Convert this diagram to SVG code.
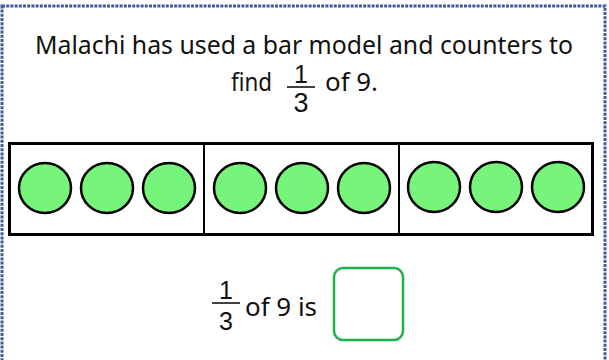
<svg xmlns="http://www.w3.org/2000/svg" width="609" height="360" viewBox="0 0 609 360">
<style>
.frame{fill:none;stroke:#3b5b9b;stroke-width:3;stroke-dasharray:3 1.2}
.t{font-family:"Noto Sans","DejaVu Sans",sans-serif;fill:#111}
.d{font-family:"Liberation Sans",Arial,sans-serif;fill:#111;text-anchor:middle}
.bar{fill:#fff;stroke:#000;stroke-width:3}
.div{stroke:#000;stroke-width:2}
.c{fill:#77f57a;stroke:#000;stroke-width:2.5}
.ans{fill:#fff;stroke:#22b04b;stroke-width:2.5}
.fl{stroke:#111;stroke-width:1.6}
</style>
<rect class="frame" x="2" y="6" width="603" height="360"/>
<g id="question">
<text class="t" x="304" y="54" font-size="26" text-anchor="middle" textLength="538" lengthAdjust="spacingAndGlyphs">Malachi has used a bar model and counters to</text>
<text class="t" x="231" y="91" font-size="26" textLength="41" lengthAdjust="spacingAndGlyphs">find</text>
<text class="d" x="301" y="83" font-size="25">1</text>
<line class="fl" x1="287" y1="87" x2="315" y2="87"/>
<text class="d" x="301" y="112" font-size="27">3</text>
<text class="t" x="325" y="91" font-size="26" textLength="53" lengthAdjust="spacingAndGlyphs">of 9.</text>
</g>
<g id="bar-model">
<rect class="bar" x="9.5" y="143.5" width="583" height="91"/>
<line class="div" x1="204" y1="143" x2="204" y2="235"/>
<line class="div" x1="399" y1="143" x2="399" y2="235"/>
</g>
<g id="counters">
<ellipse class="c" cx="45" cy="188" rx="26" ry="25"/>
<ellipse class="c" cx="107" cy="188" rx="26" ry="25"/>
<ellipse class="c" cx="169" cy="188" rx="26" ry="25"/>
<ellipse class="c" cx="240" cy="188" rx="26" ry="25"/>
<ellipse class="c" cx="302" cy="188" rx="26" ry="25"/>
<ellipse class="c" cx="364" cy="188" rx="26" ry="25"/>
<ellipse class="c" cx="434" cy="187" rx="26" ry="25"/>
<ellipse class="c" cx="496" cy="187" rx="26" ry="25"/>
<ellipse class="c" cx="558" cy="187" rx="26" ry="25"/>
</g>
<g id="answer-line">
<text class="d" x="226" y="299" font-size="25">1</text>
<line class="fl" x1="212" y1="303" x2="240" y2="303"/>
<text class="d" x="226" y="330" font-size="25">3</text>
<text class="t" x="245" y="316" font-size="25" textLength="72" lengthAdjust="spacingAndGlyphs">of 9 is</text>
</g>
<g id="answer-box">
<rect class="ans" x="334" y="268" width="69" height="72" rx="9"/>
</g>
</svg>
